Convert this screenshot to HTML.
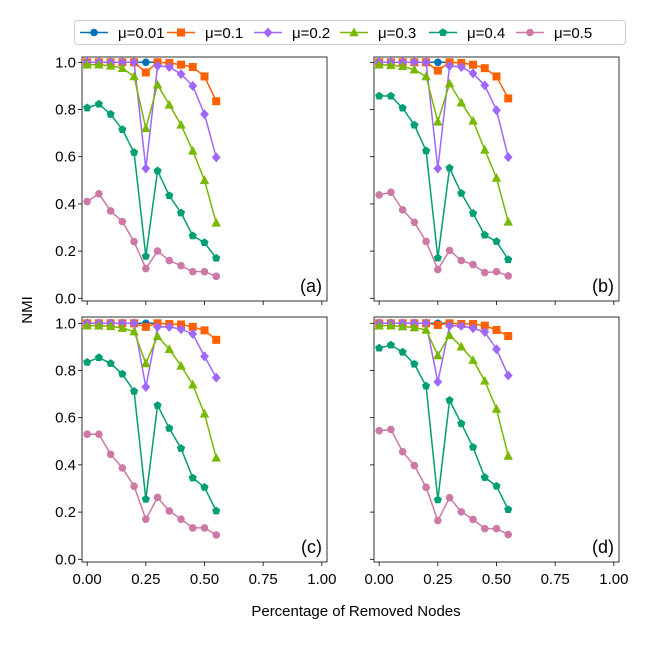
<!DOCTYPE html>
<html><head><meta charset="utf-8"><style>
html,body{margin:0;padding:0;background:#fff;}
svg{display:block;font-family:"Liberation Sans","DejaVu Sans",sans-serif;}
</style></head><body>
<svg id="chart" width="648" height="648" xmlns="http://www.w3.org/2000/svg"></svg>
<script>
const xValues = [0,0.05,0.1,0.15,0.2,0.25,0.3,0.35,0.4,0.45,0.5,0.55];
const seriesLabels = ["μ=0.01","μ=0.1","μ=0.2","μ=0.3","μ=0.4","μ=0.5"];
const panelLabels = ["(a)","(b)","(c)","(d)"];
const yTicks = [0,0.2,0.4,0.6,0.8,1.0];
const yTickLabels = ["0.0","0.2","0.4","0.6","0.8","1.0"];
const xTicks = [0,0.25,0.5,0.75,1.0];
const xTickLabels = ["0.00","0.25","0.50","0.75","1.00"];
const mu001 = [1,1,1,1,1,1,1];
const panelA = [
 mu001,
 [1,1,1,1,1,0.957,1,0.997,0.99,0.98,0.94,0.835],
 [1,1,1,1,1,0.55,0.985,0.98,0.95,0.90,0.78,0.597],
 [0.99,0.99,0.985,0.975,0.94,0.72,0.905,0.82,0.735,0.625,0.50,0.32],
 [0.807,0.823,0.78,0.715,0.618,0.178,0.54,0.435,0.362,0.265,0.236,0.17],
 [0.41,0.443,0.37,0.325,0.24,0.126,0.2,0.16,0.138,0.113,0.113,0.093]
];
const panelB = [
 mu001,
 [1,1,1,1,1,0.965,1,0.997,0.99,0.975,0.94,0.847],
 [1,1,1,1,1,0.55,0.985,0.98,0.953,0.902,0.797,0.598],
 [0.99,0.987,0.983,0.969,0.94,0.748,0.91,0.829,0.752,0.629,0.51,0.324],
 [0.857,0.857,0.806,0.734,0.625,0.171,0.552,0.445,0.36,0.268,0.241,0.164],
 [0.438,0.449,0.375,0.322,0.241,0.122,0.203,0.16,0.143,0.109,0.113,0.095]
];
const panelC = [
 mu001,
 [1,1,1,1,1,0.985,1,0.997,0.995,0.985,0.97,0.93],
 [1,1,1,1,1,0.73,0.985,0.985,0.975,0.955,0.86,0.77],
 [0.99,0.99,0.987,0.98,0.965,0.83,0.945,0.89,0.82,0.74,0.617,0.43],
 [0.835,0.855,0.83,0.785,0.712,0.255,0.652,0.555,0.47,0.345,0.305,0.205],
 [0.53,0.53,0.445,0.387,0.31,0.17,0.262,0.205,0.17,0.133,0.133,0.103]
];
const panelD = [
 mu001,
 [1,1,1,1,1,0.993,1,0.997,0.997,0.99,0.972,0.946],
 [1,1,1,1,1,0.752,0.989,0.989,0.979,0.963,0.89,0.779],
 [0.99,0.99,0.986,0.982,0.972,0.864,0.949,0.901,0.844,0.756,0.637,0.438],
 [0.895,0.908,0.878,0.827,0.734,0.252,0.674,0.575,0.475,0.347,0.31,0.211],
 [0.545,0.55,0.456,0.397,0.305,0.164,0.261,0.201,0.169,0.13,0.13,0.105]
];

const colors = ["#0072b2","#ff6000","#a066ff","#77b800","#009e73","#cc79a7"];
const markers = ["circle","square","diamond","triangle","pentagon","circle"];
const NS = "http://www.w3.org/2000/svg";
const svg = document.getElementById("chart");
function mk(tag, attrs, parent){const e=document.createElementNS(NS,tag);for(const k in attrs)e.setAttribute(k,attrs[k]);(parent||svg).appendChild(e);return e;}

function marker(g, type, cx, cy, color){
  let e;
  if(type==="circle"){e=mk("circle",{cx,cy,r:3.8,fill:color},g);}
  else if(type==="square"){e=mk("rect",{x:cx-4,y:cy-4,width:8,height:8,fill:color},g);}
  else if(type==="diamond"){e=mk("polygon",{points:`${cx},${cy-5} ${cx+4.4},${cy} ${cx},${cy+5} ${cx-4.4},${cy}`,fill:color},g);}
  else if(type==="triangle"){e=mk("polygon",{points:`${cx},${cy-5} ${cx+4.7},${cy+3.8} ${cx-4.7},${cy+3.8}`,fill:color},g);}
  else {let p=[];for(let i=0;i<5;i++){const a=-Math.PI/2+i*2*Math.PI/5;p.push((cx+4.3*Math.cos(a)).toFixed(2)+","+(cy+4.3*Math.sin(a)).toFixed(2));}e=mk("polygon",{points:p.join(" "),fill:color},g);}
  return e;
}

const panels = [
 {data:panelA,left:82,right:327,top:57,bottom:301,y1:62.3,y0:298.3,showY:true,showX:false},
 {data:panelB,left:374,right:619,top:57,bottom:301,y1:62.3,y0:298.3,showY:false,showX:false},
 {data:panelC,left:82,right:327,top:317,bottom:562,y1:323.3,y0:559.3,showY:true,showX:true},
 {data:panelD,left:374,right:619,top:317,bottom:562,y1:323.3,y0:559.3,showY:false,showX:true}
];

panels.forEach((p,pi)=>{
  const g = mk("g",{});
  
  
  const xs = v => p.left + (v+0.022)/1.044*(p.right-p.left);
  const ys = v => p.y0 - v*(p.y0-p.y1);
  yTicks.forEach((t,i)=>{
    const y=ys(t);
    mk("line",{x1:p.left-4,x2:p.left,y1:y,y2:y,stroke:"#000","stroke-width":0.8},g);
    if(p.showY){const tx=mk("text",{x:p.left-6,y:y+5,"text-anchor":"end","font-size":15},g);tx.textContent=yTickLabels[i];
      
      }
  });
  xTicks.forEach((t,i)=>{
    const x=xs(t);
    mk("line",{x1:x,x2:x,y1:p.bottom,y2:p.bottom+4,stroke:"#000","stroke-width":0.8},g);
    if(p.showX){const tx=mk("text",{x:x,y:p.bottom+22,"text-anchor":"middle","font-size":15},g);tx.textContent=xTickLabels[i];
      
      }
  });
  p.data.forEach((vals,si)=>{
    const sg = mk("g",{},g);
    
    
    const pts = vals.map((v,i)=>xs(xValues[i]).toFixed(2)+","+ys(v).toFixed(2)).join(" ");
    mk("polyline",{points:pts,fill:"none",stroke:colors[si],"stroke-width":1.5},sg);
    vals.forEach((v,i)=>{
      const m = marker(sg,markers[si],xs(xValues[i]),ys(v),colors[si]);
      
      
    });
  });
  const frame = mk("rect",{x:p.left,y:p.top,width:p.right-p.left,height:p.bottom-p.top,fill:"none",stroke:"#000","stroke-width":0.8},g);
  
  
  const lab = mk("text",{x:p.right-5,y:p.bottom-9,"text-anchor":"end","font-size":18},g);
  lab.textContent = panelLabels[pi];
  
  
});

const yt = mk("text",{x:0,y:0,"text-anchor":"middle","font-size":15,transform:"translate(32,310) rotate(-90)"});
yt.textContent="NMI";


const xt = mk("text",{x:356,y:616,"text-anchor":"middle","font-size":15});
xt.textContent="Percentage of Removed Nodes";



const lg = mk("g",{});


mk("rect",{x:74.5,y:20.5,width:551,height:24,rx:3,fill:"#fff",stroke:"#ccc","stroke-width":1},lg);
const legX=[80,167,254,340,429,516];
seriesLabels.forEach((s,i)=>{
  const eg = mk("g",{},lg);
  
  
  const x=legX[i];
  mk("line",{x1:x,x2:x+28,y1:32.5,y2:32.5,stroke:colors[i],"stroke-width":1.5},eg);
  marker(eg,markers[i],x+14,32.5,colors[i]);
  const t=mk("text",{x:x+38,y:38,"font-size":15},eg);
  t.textContent=s;
});
</script>
</body></html>
